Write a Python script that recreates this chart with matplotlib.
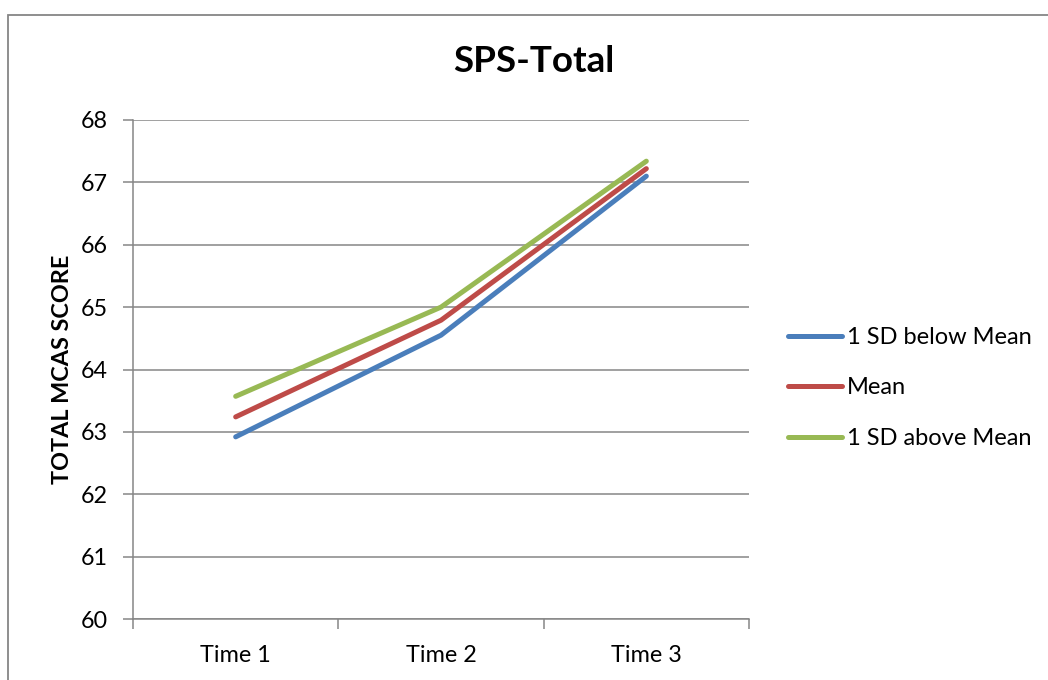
import matplotlib.pyplot as plt
from matplotlib.patches import Rectangle

times = ["Time 1", "Time 2", "Time 3"]
below_mean = [62.92, 64.55, 67.10]
mean = [63.24, 64.79, 67.22]
above_mean = [63.57, 65.00, 67.34]

series = [
    ("1 SD below Mean", below_mean, "#4A7EBB"),
    ("Mean", mean, "#BE4B48"),
    ("1 SD above Mean", above_mean, "#98B954"),
]

plt.rcParams["font.family"] = ["Lato", "DejaVu Sans"]
grey = "#868686"

fig = plt.figure(figsize=(10.48, 6.8), dpi=100)
ax = fig.add_axes([133 / 1048, 1 - 619 / 680, 616 / 1048, 499 / 680])

x = list(range(len(times)))
for label, values, color in series:
    ax.plot(x, values, color=color, lw=3.6, label=label, solid_capstyle="round")

ax.set_xlim(-0.5, len(times) - 0.5)
ax.set_ylim(60, 68)
ax.set_yticks(range(60, 69))
ax.yaxis.grid(True, color=grey, lw=1.1)
ax.set_axisbelow(True)

# category ticks sit between the groups, labels in the middle
ax.set_xticks([i - 0.5 for i in range(len(times) + 1)])
ax.set_xticklabels([])
ax.set_xticks(x, minor=True)
ax.set_xticklabels(times, minor=True)
ax.tick_params(axis="x", which="major", length=7, width=1.1, color=grey, direction="out")
ax.tick_params(axis="x", which="minor", length=0, pad=19, labelsize=16.8)
ax.tick_params(axis="y", length=7, width=1.1, color=grey, pad=11, labelsize=16.8)

for side in ["top", "right"]:
    ax.spines[side].set_visible(False)
for side in ["left", "bottom"]:
    ax.spines[side].set_color(grey)
    ax.spines[side].set_linewidth(1.1)

ax.set_ylabel("TOTAL MCAS SCORE", fontsize=16.8, fontweight="bold")
ax.yaxis.set_label_coords(-0.097, 0.5)

fig.text(534 / 1048, 1 - 61 / 680, "SPS-Total", ha="center", va="center",
         fontsize=26.5, fontweight="bold")

ax.legend(loc="center left", bbox_to_anchor=(788 / 1048, 1 - 388 / 680),
          bbox_transform=fig.transFigure, frameon=False, fontsize=17,
          handlelength=2.3, handletextpad=0.2, labelspacing=1.25,
          borderaxespad=0, borderpad=0)

fig.add_artist(Rectangle((8 / 1048, -0.1), 1.2, 1.1 - 15 / 680,
                         transform=fig.transFigure, fill=False,
                         edgecolor=grey, lw=1.3))

fig.savefig("out.png", dpi=100)
